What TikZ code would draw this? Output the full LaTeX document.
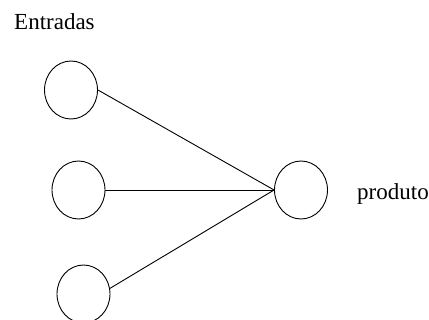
\documentclass[tikz,border=0pt]{standalone}
\usepackage{fontspec}
\setmainfont{Liberation Serif}
\usetikzlibrary{shapes.geometric}
\begin{document}
\begin{tikzpicture}[x=1pt,y=-1pt,
  neuron/.style={draw, ellipse, line width=0.9pt, minimum width=53pt, minimum height=58pt, inner sep=0pt},
  link/.style={line width=0.9pt},
  lbl/.style={anchor=base west, inner sep=0pt, font=\fontsize{23}{26}\selectfont}]
\useasboundingbox (0,0) rectangle (429,320);
\clip (0,0) rectangle (429,320);
\node[neuron] (i1) at (71,90) {};
\node[neuron] (i2) at (78.5,190) {};
\node[neuron] (i3) at (83.5,294) {};
\node[neuron] (o) at (301,190) {};
\node[lbl] (t1) at (14,30) {Entradas};
\node[lbl] (t2) at (357,200) {produto};
\draw[link] (i1.east) -- (o.west);
\draw[link] (i2.east) -- (o.west);
\draw[link] (i3.12) -- (o.west);
\end{tikzpicture}
\end{document}
